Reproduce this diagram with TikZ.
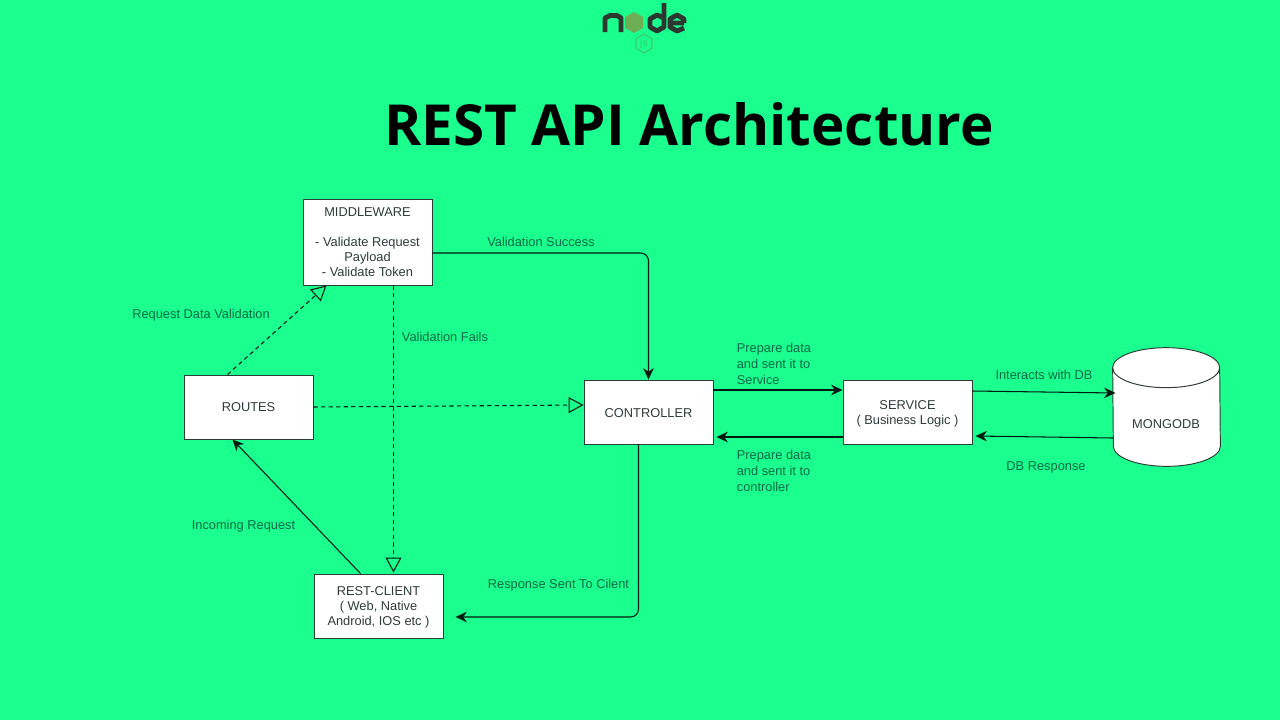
\documentclass[tikz,border=0pt]{standalone}
\usepackage{fontspec}
\setmainfont{Liberation Sans}
\newfontfamily\titlefont{Open Sans}
\usetikzlibrary{calc, positioning, arrows.meta}
\definecolor{pageBg}{RGB}{27, 255, 143}
\definecolor{labelInk}{RGB}{10, 105, 70}
\definecolor{boxInk}{RGB}{45, 60, 55}
\definecolor{logoInk}{RGB}{45, 55, 50}
\definecolor{logoLeaf}{RGB}{110, 175, 85}
\definecolor{logoJs}{RGB}{60, 200, 110}

\begin{document}
\begin{tikzpicture}[x=0.02cm, y=-0.02cm,
    box/.style={draw=boxInk, line width=0.55pt, fill=white, text=boxInk, align=center, inner sep=0pt,
      minimum width=2.58cm, minimum height=1.28cm, font=\fontsize{7.3}{8.6}\selectfont},
    lbl/.style={text=labelInk, inner sep=0pt, yshift=-0.6pt, font=\fontsize{7.3}{9}\selectfont},
    conn/.style={draw=black!75!labelInk, line width=0.6pt},
    flow/.style={conn, -{Stealth[length=6.5pt, width=6pt]}},
    check/.style={conn, dash pattern=on 2.4pt off 1.9pt,
      -{Triangle[open, fill=pageBg, length=8.5pt, width=9pt]}}]
  \fill[pageBg] (0,0) rectangle (1280,720);
  \useasboundingbox (0,0) rectangle (1280,720);

  % logo
  \draw[logoInk, line width=2.8pt, line join=round] (605,32) -- (605,18) -- (610,15.5) -- (617,15.5) -- (621,18) -- (621,32);
  \fill[logoLeaf] (634,12) -- (643,17) -- (643,28) -- (634,33) -- (625,28) -- (625,17) -- cycle;
  \draw[logoInk, line width=2.8pt, line join=round] (664,3) -- (664,27) -- (657,31) -- (650,27) -- (650,19) -- (657,15) -- (664,18);
  \draw[logoInk, line width=2.8pt, line join=round] (684,23) -- (670,23) -- (670,19) -- (677,15) -- (684,19) -- (684,23) (670,23) -- (670,27) -- (677,31) -- (684,28);
  \draw[logoJs, line width=0.6pt] (644,34) -- (652,39) -- (652,48) -- (644,53) -- (636,48) -- (636,39) -- cycle;
  \node[text=logoJs, inner sep=0pt, font=\fontsize{6}{6}\selectfont] (logojs) at (644,43.5) {js};

  \node[inner sep=0pt, font=\titlefont\bfseries\fontsize{32.2}{33}\selectfont] (title) at (689,124) {REST API Architecture};

  % main boxes
  \node[box, minimum height=1.72cm] (middleware) at (367.5,242) {MIDDLEWARE\\ \\- Validate Request\\Payload\\- Validate Token};
  \node[box] (routes) at (248.5,407) {ROUTES};
  \node[box] (controller) at (648.5,412) {\rule{0pt}{6.6pt}CONTROLLER};
  \node[box] (service) at (907.5,412) {\rule{0pt}{7.5pt}SERVICE\\( Business Logic )};
  \node[box] (restclient) at (378.5,606) {\rule{0pt}{6.6pt}REST-CLIENT\\( Web, Native\\Android, IOS etc )};

  % cylinder
  \node[minimum width=2.14cm, minimum height=2.36cm, inner sep=0pt] (mongodb) at (1166.5,407) {};
  \draw[draw=boxInk, line width=0.55pt, fill=white] ($(mongodb.north west)+(0,20)$) arc[start angle=180, end angle=360, x radius=53.5, y radius=20]
    -- ($(mongodb.south east)+(0,-20)$) arc[start angle=0, end angle=180, x radius=53.5, y radius=20] -- cycle;
  \draw[draw=boxInk, line width=0.55pt] ($(mongodb.north west)+(0,20)$) arc[start angle=180, end angle=0, x radius=53.5, y radius=20];
  \node[text=boxInk, inner sep=0pt, font=\fontsize{7.3}{9}\selectfont] (mongolabel) at (1166,424.5) {MONGODB};

  % connectors
  \draw[flow] ($(restclient.north)+(-18,0)$) -- ($(routes.south)+(-16,0)$);
  \draw[check] ($(routes.north)+(-21,0)$) -- ($(middleware.south)+(-41,0)$);
  \draw[check] (routes.east) -- ($(controller.west)+(0,-7)$);
  \draw[check] ($(middleware.south)+(26,0)$) -- ($(restclient.north)+(15,-1)$);
  \draw[flow, rounded corners=4.5pt] ($(middleware.east)+(0,11)$) -| (controller.north);
  \draw[flow] ($(controller.east)+(0,-22)$) -- ($(service.west)+(0,-22)$);
  \draw[flow] ($(service.west)+(0,25)$) -- ($(controller.east)+(3,25)$);
  \draw[flow] ($(service.east)+(0,-21)$) -- ($(mongodb.center)+(-51,-14)$);
  \draw[flow] ($(mongodb.center)+(-53.5,31)$) -- ($(service.east)+(3,24)$);
  \draw[flow, rounded corners=4.5pt] ($(controller.south)+(-10,0)$) |- ($(restclient.east)+(12,11)$);

  % labels
  \node[lbl] (reqlabel) at (201,314) {Request Data Validation};
  \node[lbl] (faillabel) at (445,336) {Validation Fails};
  \node[lbl] (oklabel) at (541,241) {Validation Success};
  \node[lbl] (inlabel) at (243.5,525) {Incoming Request};
  \node[lbl] (resplabel) at (558.5,584) {Response Sent To Cilent};
  \node[lbl, align=left, anchor=west] (tosvc) at (736.5,363) {Prepare data\\and sent it to\\Service};
  \node[lbl, align=left, anchor=west] (toctl) at (736.5,470) {Prepare data\\and sent it to\\controller};
  \node[lbl] (dblabel) at (1044,374) {Interacts with DB};
  \node[lbl] (dbresp) at (1046,466) {DB Response};
\end{tikzpicture}
\end{document}
